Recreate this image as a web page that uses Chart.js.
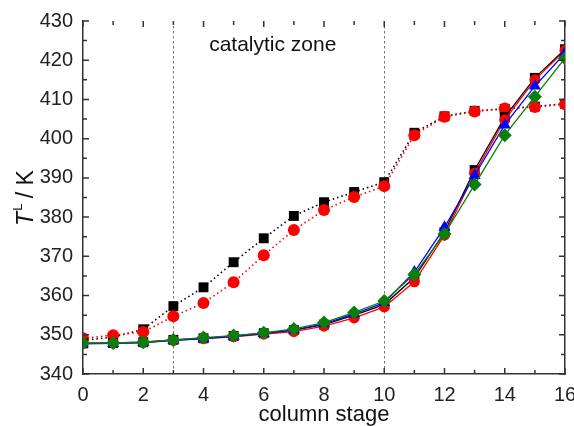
<!DOCTYPE html>
<html>
<head>
<meta charset="utf-8">
<script src="https://cdn.jsdelivr.net/npm/chart.js@4.4.1/dist/chart.umd.min.js"></script>
<style>
  html, body { margin: 0; padding: 0; background: #fff; }
  #wrap { width: 574px; height: 426px; }
</style>
</head>
<body>
<div id="wrap"><canvas id="chart" width="574" height="426"></canvas></div>
<script>
// column stages (x)
const stages = [0, 1, 2, 3, 4, 5, 6, 7, 8, 9, 10, 11, 12, 13, 14, 15, 16];

// dotted series
const dotBlack = [348.6, 349.4, 351.4, 357.3, 362.1, 368.5, 374.6, 380.3, 383.8, 386.4, 388.9, 401.5, 405.7, 407.1, 407.6, 408.2, 408.9];
const dotRed = [349.1, 349.9, 350.7, 354.7, 358.1, 363.4, 370.3, 376.7, 381.8, 385.1, 387.9, 400.9, 405.6, 406.9, 407.7, 408.1, 408.8];

// solid series
const solidBlack = [347.8, 347.9, 348.1, 348.7, 349.1, 349.7, 350.4, 351.2, 352.6, 355.0, 357.7, 364.6, 376.2, 392.0, 405.5, 415.5, 422.8];
const solidRed = [347.8, 347.9, 348.0, 348.6, 349.0, 349.5, 350.2, 350.8, 352.2, 354.3, 357.1, 363.5, 375.4, 391.2, 404.8, 415.0, 422.5];
const solidBlue = [347.7, 347.8, 348.0, 348.6, 349.0, 349.6, 350.3, 351.2, 352.8, 355.3, 358.2, 366.0, 377.4, 390.6, 403.5, 413.4, 421.8];
const solidGreen = [347.9, 347.9, 348.1, 348.7, 349.3, 349.8, 350.5, 351.5, 353.1, 355.7, 358.6, 365.4, 375.7, 388.3, 400.9, 410.7, 420.5];

// catalytic zone boundaries
const zoneLines = [3, 10];
const zoneLabel = 'catalytic zone';

const FONT = '"Liberation Sans", Arial, sans-serif';
const AXIS = '#333';

function pts(vals) {
  return stages.map((s, i) => ({ x: s, y: vals[i] }));
}

function ds(vals, color, style, radius, dotted) {
  return {
    data: pts(vals),
    borderColor: color,
    backgroundColor: color,
    pointBackgroundColor: color,
    pointBorderColor: color,
    pointBorderWidth: 0,
    pointStyle: style,
    pointRadius: radius,
    borderWidth: dotted ? 1.6 : 1.3,
    borderDash: dotted ? [1.5, 3] : [],
    tension: 0,
    fill: false
  };
}

// inward ticks, zone lines and titles
const decor = {
  id: 'decor',
  beforeDatasetsDraw(chart) {
    const { ctx, chartArea: a, scales: { x } } = chart;
    ctx.save();
    ctx.strokeStyle = '#777';
    ctx.lineWidth = 1;
    ctx.setLineDash([2.5, 2.5]);
    zoneLines.forEach(v => {
      const px = Math.round(x.getPixelForValue(v)) + 0.5;
      ctx.beginPath();
      ctx.moveTo(px, a.top);
      ctx.lineTo(px, a.bottom);
      ctx.stroke();
    });
    ctx.restore();
  },
  afterDraw(chart) {
    const { ctx, chartArea: a, scales: { x, y } } = chart;
    ctx.save();
    ctx.strokeStyle = AXIS;
    ctx.lineWidth = 1.5;
    for (let v = 0; v <= 16; v++) {
      const px = x.getPixelForValue(v);
      const len = v % 2 === 0 ? 6 : 4;
      ctx.beginPath();
      ctx.moveTo(px, a.bottom); ctx.lineTo(px, a.bottom - len);
      ctx.moveTo(px, a.top); ctx.lineTo(px, a.top + len);
      ctx.stroke();
    }
    for (let v = 340; v <= 430; v += 5) {
      const py = y.getPixelForValue(v);
      const len = v % 10 === 0 ? 6 : 4;
      ctx.beginPath();
      ctx.moveTo(a.left, py); ctx.lineTo(a.left + len, py);
      ctx.moveTo(a.right, py); ctx.lineTo(a.right - len, py);
      ctx.stroke();
    }

    ctx.fillStyle = '#111';
    ctx.font = '21px ' + FONT;
    ctx.textAlign = 'center';
    ctx.textBaseline = 'middle';
    ctx.fillText(zoneLabel, x.getPixelForValue(6.3), 45);

    ctx.font = '22px ' + FONT;
    ctx.fillText('column stage', (a.left + a.right) / 2, 415);

    // y title: T^L / K
    ctx.translate(27, 198);
    ctx.rotate(-Math.PI / 2);
    ctx.textAlign = 'left';
    ctx.textBaseline = 'middle';
    const t1 = 'T', sup = 'L', t2 = ' / K';
    ctx.font = 'italic 23px ' + FONT;
    const w1 = ctx.measureText(t1).width;
    ctx.font = '13px ' + FONT;
    const ws = ctx.measureText(sup).width;
    ctx.font = '23px ' + FONT;
    const w2 = ctx.measureText(t2).width;
    let sx = -(w1 + ws + w2) / 2;
    ctx.font = 'italic 23px ' + FONT;
    ctx.fillText(t1, sx, 0);
    sx += w1 + 1;
    ctx.font = '13px ' + FONT;
    ctx.fillText(sup, sx, -9);
    sx += ws - 1;
    ctx.font = '23px ' + FONT;
    ctx.fillText(t2, sx, 0);
    ctx.restore();
  }
};

new Chart(document.getElementById('chart'), {
  type: 'line',
  data: {
    datasets: [
      ds(solidGreen, '#0a800a', 'rectRot', 7, false),
      ds(solidBlue, '#0000ff', 'triangle', 7, false),
      ds(solidRed, '#ff0000', 'circle', 5.5, false),
      ds(solidBlack, '#000000', 'rect', 7, false),
      ds(dotRed, '#ff0000', 'circle', 6, true),
      ds(dotBlack, '#000000', 'rect', 7, true)
    ]
  },
  options: {
    responsive: false,
    animation: false,
    layout: { padding: { left: 0, right: 9, top: 21, bottom: 0 } },
    plugins: { legend: { display: false }, tooltip: { enabled: false } },
    scales: {
      x: {
        type: 'linear',
        min: 0,
        max: 16,
        grid: { display: false, drawTicks: false },
        border: { display: true, color: AXIS, width: 1.5 },
        ticks: {
          stepSize: 2,
          padding: 9,
          color: '#222',
          font: { size: 20, family: FONT },
          maxRotation: 0
        },
        afterFit(s) { s.height = 52; s.paddingLeft = 0; s.paddingRight = 0; }
      },
      y: {
        min: 340,
        max: 430,
        grid: { display: false, drawTicks: false },
        border: { display: true, color: AXIS, width: 1.5 },
        ticks: {
          stepSize: 10,
          padding: 10,
          color: '#222',
          font: { size: 20, family: FONT }
        },
        afterFit(s) { s.width = 83; s.paddingTop = 0; s.paddingBottom = 0; }
      },
      y2: {
        position: 'right',
        min: 340,
        max: 430,
        grid: { display: false, drawTicks: false },
        border: { display: true, color: AXIS, width: 1.5 },
        ticks: { display: false },
        afterFit(s) { s.width = 0; }
      }
    }
  },
  plugins: [decor]
});
</script>
</body>
</html>
